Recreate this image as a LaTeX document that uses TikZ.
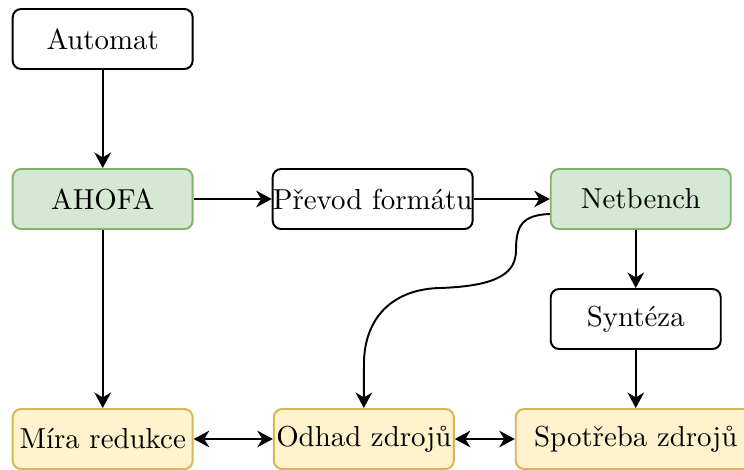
\documentclass[tikz,border=0pt]{standalone}
\usepackage{tikz}
\usetikzlibrary{arrows.meta}

\definecolor{greenfill}{HTML}{D5E8D4}
\definecolor{greenline}{HTML}{82B366}
\definecolor{yellowfill}{HTML}{FFF2CC}
\definecolor{yellowline}{HTML}{D6B656}

\begin{document}
\begin{tikzpicture}[x=0.36pt, y=-0.36pt, -{Stealth[length=5.6pt,width=6pt,inset=1.8pt]}, line width=0.7pt,
    box/.style={draw, fill=white, rounded corners=3pt, minimum width=64.8pt, minimum height=21.6pt, inner sep=0pt, font=\fontsize{10.4pt}{12pt}\selectfont},
    tool/.style={box, draw=greenline, fill=greenfill},
    result/.style={box, draw=yellowline, fill=yellowfill}]
      \useasboundingbox (0,0) rectangle (744,469);
      \node [box] (automat) at (102.7,39) {Automat};
      \node [tool] (ahofa) [below of=automat, node distance=57.6pt] {AHOFA};
      \node [box, minimum width=72pt] (prevod) [right of=ahofa, node distance=97.2pt] {Převod formátu};
      \node [tool] (netbench) [right of=prevod, node distance=96.5pt] {Netbench};
      \node [box, minimum width=61.2pt, xshift=-1.8pt] (synteza) [below of=netbench, node distance=43.2pt] {Syntéza};
      \node [result] (mira) [below of=ahofa, node distance=86.4pt] {Míra redukce};
      \node [result] (odhad) [right of=mira, node distance=94pt] {Odhad zdrojů};
      \node [result, minimum width=86.4pt] (spotreba) [below of=synteza, node distance=43.2pt] {Spotřeba zdrojů};
      \path
      (automat) edge (ahofa)
      (ahofa) edge (prevod)
      (prevod) edge (netbench)
      (netbench.south -| synteza) edge (synteza)
      (ahofa) edge (mira)
      (synteza) edge (spotreba)
      (mira) edge [{Stealth[length=5.6pt,width=6pt,inset=1.8pt]}-{Stealth[length=5.6pt,width=6pt,inset=1.8pt]}] (odhad)
      (odhad) edge [{Stealth[length=5.6pt,width=6pt,inset=1.8pt]}-{Stealth[length=5.6pt,width=6pt,inset=1.8pt]}] (spotreba)
      ;
      \draw ([yshift=-5.4pt]netbench.west) .. controls (522,215) and (516,226) .. (516,250)
        .. controls (516,272) and (500,286) .. (440,288)
        .. controls (395,289) and (366,315) .. (364,360) -- (odhad.north);
\end{tikzpicture}
\end{document}
